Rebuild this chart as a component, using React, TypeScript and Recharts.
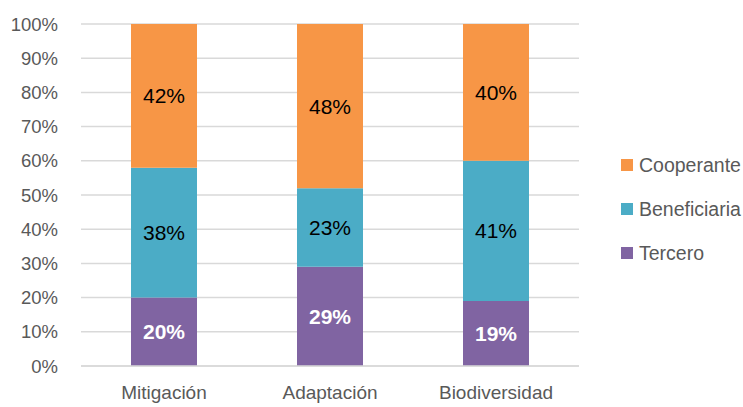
import { BarChart, Bar, XAxis, YAxis, CartesianGrid, LabelList } from 'recharts';

const categories = ['Mitigación', 'Adaptación', 'Biodiversidad'];
const tercero = [20, 29, 19];
const beneficiaria = [38, 23, 41];
const cooperante = [42, 48, 40];
const yTicks = [0, 10, 20, 30, 40, 50, 60, 70, 80, 90, 100];

const data = categories.map((name, i) => ({
  name,
  Tercero: tercero[i],
  Beneficiaria: beneficiaria[i],
  Cooperante: cooperante[i],
}));

const font = '"Liberation Sans Narrow", "Arial Narrow", "Liberation Sans", Arial, sans-serif';

const legendItems = [
  { label: 'Cooperante', color: '#F79646' },
  { label: 'Beneficiaria', color: '#4BACC6' },
  { label: 'Tercero', color: '#8064A2' },
];

function LegendBox() {
  return (
    <div style={{ position: 'absolute', left: 621, top: 143, fontFamily: font }}>
      {legendItems.map((it) => (
        <div key={it.label} style={{ display: 'flex', alignItems: 'center', height: 44 }}>
          <div style={{ width: 12, height: 12, background: it.color, marginRight: 6 }} />
          <span style={{ fontSize: 19.5, color: '#595959' }}>{it.label}</span>
        </div>
      ))}
    </div>
  );
}

export default function App() {
  return (
    <div style={{ position: 'absolute', left: 0, top: 0, width: 743, height: 407, background: '#fff', fontFamily: font }}>
      <BarChart width={743} height={407} data={data} margin={{ top: 24, right: 164, left: 0, bottom: 0 }}>
        <CartesianGrid vertical={false} stroke="#d9d9d9" strokeWidth={1.5} />
        <XAxis
          dataKey="name"
          height={41}
          tickLine={false}
          axisLine={{ stroke: '#d9d9d9', strokeWidth: 1.5 }}
          tick={{ fontSize: 19, fill: '#595959', fontFamily: font }}
          tickMargin={14}
        />
        <YAxis
          width={81}
          domain={[0, 100]}
          ticks={yTicks}
          interval={0}
          tickFormatter={(v) => `${v}%`}
          axisLine={false}
          tickLine={false}
          tickSize={0}
          tickMargin={23}
          tick={{ fontSize: 18.5, fill: '#595959', fontFamily: font }}
        />
        <Bar dataKey="Tercero" stackId="a" fill="#8064A2" barSize={66} isAnimationActive={false}>
          <LabelList dataKey="Tercero" position="center" formatter={(v) => `${v}%`} fill="#fff" fontSize={21} fontWeight="bold" fontFamily={font} />
        </Bar>
        <Bar dataKey="Beneficiaria" stackId="a" fill="#4BACC6" barSize={66} isAnimationActive={false}>
          <LabelList dataKey="Beneficiaria" position="center" formatter={(v) => `${v}%`} fill="#000" fontSize={21} fontFamily={font} />
        </Bar>
        <Bar dataKey="Cooperante" stackId="a" fill="#F79646" barSize={66} isAnimationActive={false}>
          <LabelList dataKey="Cooperante" position="center" formatter={(v) => `${v}%`} fill="#000" fontSize={21} fontFamily={font} />
        </Bar>
      </BarChart>
      <LegendBox />
    </div>
  );
}
